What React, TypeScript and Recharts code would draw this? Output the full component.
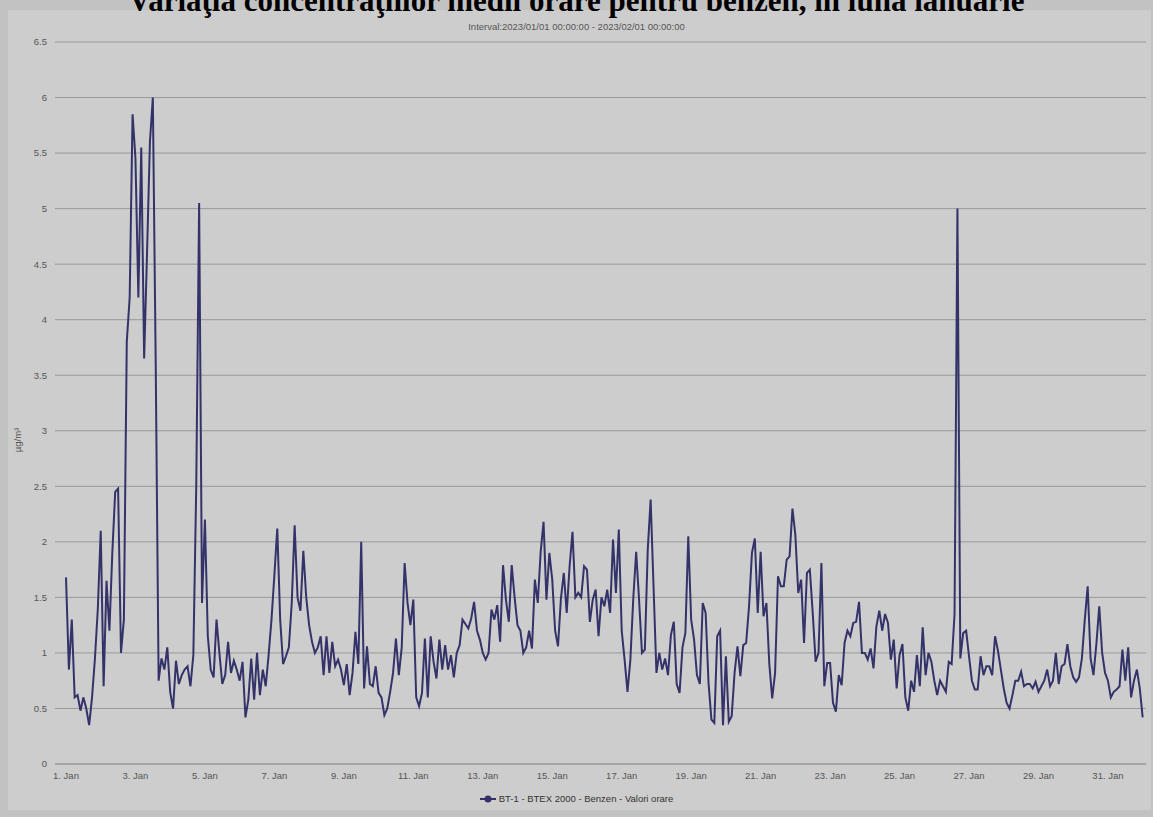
import React from 'react';
import { LineChart, Line, XAxis, YAxis, CartesianGrid } from 'recharts';

// Hourly benzene averages, read every 2 hours (µg/m³), one array per day
const jan01 = [1.68, 0.85, 1.3, 0.6, 0.62, 0.48, 0.6, 0.5, 0.35, 0.6, 0.95, 1.4];
const jan02 = [2.1, 0.7, 1.65, 1.2, 1.9, 2.45, 2.48, 1.0, 1.3, 3.8, 4.2, 5.85];
const jan03 = [5.45, 4.2, 5.55, 3.65, 4.6, 5.6, 6.0, 3.6, 0.75, 0.95, 0.85, 1.05];
const jan04 = [0.65, 0.5, 0.93, 0.72, 0.8, 0.85, 0.88, 0.7, 0.98, 2.5, 5.05, 1.45];
const jan05 = [2.2, 1.15, 0.85, 0.78, 1.3, 1.0, 0.72, 0.8, 1.1, 0.82, 0.93, 0.85];
const jan06 = [0.75, 0.92, 0.42, 0.58, 0.95, 0.58, 1.0, 0.62, 0.85, 0.7, 0.98, 1.3];
const jan07 = [1.7, 2.12, 1.3, 0.9, 0.97, 1.05, 1.45, 2.15, 1.5, 1.38, 1.92, 1.5];
const jan08 = [1.25, 1.1, 1.0, 1.05, 1.15, 0.8, 1.15, 0.82, 1.1, 0.88, 0.94, 0.85];
const jan09 = [0.71, 0.9, 0.62, 0.82, 1.19, 0.9, 2.0, 0.68, 1.06, 0.72, 0.7, 0.88];
const jan10 = [0.64, 0.6, 0.44, 0.5, 0.65, 0.82, 1.13, 0.8, 1.05, 1.81, 1.45, 1.25];
const jan11 = [1.48, 0.6, 0.52, 0.64, 1.13, 0.6, 1.15, 0.92, 0.77, 1.12, 0.85, 1.07];
const jan12 = [0.85, 0.98, 0.78, 1.0, 1.07, 1.3, 1.26, 1.22, 1.31, 1.46, 1.2, 1.12];
const jan13 = [1.0, 0.94, 1.0, 1.39, 1.3, 1.43, 1.1, 1.79, 1.48, 1.28, 1.79, 1.5];
const jan14 = [1.25, 1.2, 1.0, 1.05, 1.2, 1.04, 1.66, 1.45, 1.91, 2.18, 1.48, 1.9];
const jan15 = [1.66, 1.2, 1.06, 1.49, 1.72, 1.36, 1.78, 2.09, 1.5, 1.54, 1.5, 1.78];
const jan16 = [1.75, 1.28, 1.48, 1.57, 1.15, 1.5, 1.42, 1.57, 1.36, 2.02, 1.54, 2.11];
const jan17 = [1.2, 0.94, 0.65, 0.94, 1.49, 1.91, 1.48, 1.0, 1.03, 1.93, 2.38, 1.6];
const jan18 = [0.82, 1.0, 0.85, 0.95, 0.8, 1.16, 1.28, 0.72, 0.64, 1.05, 1.18, 2.05];
const jan19 = [1.3, 1.12, 0.8, 0.72, 1.45, 1.36, 0.73, 0.4, 0.37, 1.15, 1.2, 0.35];
const jan20 = [0.97, 0.38, 0.43, 0.82, 1.06, 0.79, 1.07, 1.09, 1.42, 1.9, 2.03, 1.36];
const jan21 = [1.91, 1.33, 1.45, 0.9, 0.59, 0.82, 1.69, 1.6, 1.6, 1.84, 1.87, 2.3];
const jan22 = [2.06, 1.54, 1.66, 1.09, 1.72, 1.75, 1.36, 0.92, 1.0, 1.81, 0.7, 0.91];
const jan23 = [0.91, 0.55, 0.47, 0.8, 0.71, 1.09, 1.2, 1.15, 1.27, 1.28, 1.46, 1.0];
const jan24 = [1.0, 0.94, 1.04, 0.86, 1.24, 1.38, 1.2, 1.35, 1.27, 0.94, 1.12, 0.68];
const jan25 = [0.98, 1.08, 0.6, 0.48, 0.75, 0.65, 0.98, 0.7, 1.23, 0.8, 1.0, 0.92];
const jan26 = [0.75, 0.62, 0.75, 0.7, 0.65, 0.92, 0.9, 1.35, 5.0, 0.95, 1.18, 1.2];
const jan27 = [0.97, 0.75, 0.67, 0.67, 0.97, 0.8, 0.88, 0.88, 0.8, 1.15, 1.02, 0.85];
const jan28 = [0.68, 0.55, 0.5, 0.62, 0.75, 0.75, 0.83, 0.7, 0.72, 0.72, 0.68, 0.74];
const jan29 = [0.65, 0.7, 0.75, 0.85, 0.7, 0.75, 1.0, 0.72, 0.88, 0.9, 1.08, 0.88];
const jan30 = [0.78, 0.74, 0.78, 0.95, 1.3, 1.6, 0.95, 0.8, 1.08, 1.42, 1.0, 0.82];
const jan31 = [0.75, 0.6, 0.65, 0.67, 0.7, 1.03, 0.75, 1.05, 0.6, 0.75, 0.85, 0.68];
const feb01 = [0.42];

const days = [
  jan01, jan02, jan03, jan04, jan05, jan06, jan07, jan08, jan09, jan10,
  jan11, jan12, jan13, jan14, jan15, jan16, jan17, jan18, jan19, jan20,
  jan21, jan22, jan23, jan24, jan25, jan26, jan27, jan28, jan29, jan30, jan31,
];
const STEP_HOURS = 2;

const xTickHours = [0, 48, 96, 144, 192, 240, 288, 336, 384, 432, 480, 528, 576, 624, 672, 720];
const xTickLabels = [
  '1. Jan', '3. Jan', '5. Jan', '7. Jan', '9. Jan', '11. Jan', '13. Jan', '15. Jan',
  '17. Jan', '19. Jan', '21. Jan', '23. Jan', '25. Jan', '27. Jan', '29. Jan', '31. Jan',
];
const yTicks = [0, 0.5, 1, 1.5, 2, 2.5, 3, 3.5, 4, 4.5, 5, 5.5, 6, 6.5];

const TITLE = 'Variaţia concentraţiilor medii orare pentru benzen, în luna ianuarie';
const SUBTITLE = 'Interval:2023/01/01 00:00:00 - 2023/02/01 00:00:00';
const SERIES_NAME = 'BT-1 - BTEX 2000 - Benzen - Valori orare';
const Y_LABEL = 'µg/m³';

const values = [...days.flat(), ...feb01];
const data = values.map((v, i) => ({ h: i * STEP_HOURS, v }));

const LINE_COLOR = '#33336a';
const FONT = '"Liberation Sans", Arial, sans-serif';

export default function App() {
  return (
    <div style={{ position: 'absolute', left: 0, top: 0, width: 1153, height: 817, background: '#c2c2c2', overflow: 'hidden' }}>
      <div style={{ position: 'absolute', left: 8, top: 10, width: 1143, height: 800, background: '#cdcdcd' }} />
      <div style={{ position: 'absolute', left: 0, top: -17, width: 1153, textAlign: 'center', fontFamily: '"Liberation Serif", "Times New Roman", serif', fontWeight: 'bold', fontSize: 31, lineHeight: '36px', color: '#000', whiteSpace: 'nowrap' }}>
        {TITLE}
      </div>
      <div style={{ position: 'absolute', left: 0, top: 21, width: 1153, textAlign: 'center', fontFamily: FONT, fontSize: 9.5, color: '#555' }}>
        {SUBTITLE}
      </div>
      <div style={{ position: 'absolute', left: 17, top: 440, transform: 'translate(-50%, -50%) rotate(-90deg)', fontFamily: FONT, fontSize: 9.5, color: '#555', whiteSpace: 'nowrap' }}>
        {Y_LABEL}
      </div>
      <div style={{ position: 'absolute', left: 0, top: 0 }}>
        <LineChart width={1153} height={817} data={data} margin={{ top: 42, right: 7, bottom: 23, left: 15 }}>
          <CartesianGrid vertical={false} stroke="#999999" strokeWidth={1} />
          <XAxis
            type="number"
            dataKey="h"
            domain={[-7.6, 746.3]}
            allowDataOverflow
            ticks={xTickHours}
            tickFormatter={(h: number) => xTickLabels[xTickHours.indexOf(h)] ?? ''}
            tickLine={false}
            axisLine={{ stroke: '#999999' }}
            tick={{ fontSize: 9.5, fill: '#555', fontFamily: FONT }}
            height={30}
            interval={0}
          />
          <YAxis
            type="number"
            domain={[0, 6.5]}
            ticks={yTicks}
            interval={0}
            axisLine={false}
            tickLine={false}
            width={40}
            tick={{ fontSize: 9.5, fill: '#555', fontFamily: FONT }}
          />
          <Line type="linear" dataKey="v" stroke={LINE_COLOR} strokeWidth={2} dot={false} isAnimationActive={false} />
        </LineChart>
      </div>
      <div style={{ position: 'absolute', left: 0, top: 793, width: 1153, display: 'flex', justifyContent: 'center', alignItems: 'center', fontFamily: FONT, fontSize: 9.5, color: '#333' }}>
        <svg width={16} height={10} style={{ marginRight: 3 }}>
          <line x1={0} y1={5} x2={16} y2={5} stroke={LINE_COLOR} strokeWidth={2} />
          <circle cx={8} cy={5} r={3.5} fill={LINE_COLOR} />
        </svg>
        <span>{SERIES_NAME}</span>
      </div>
    </div>
  );
}
